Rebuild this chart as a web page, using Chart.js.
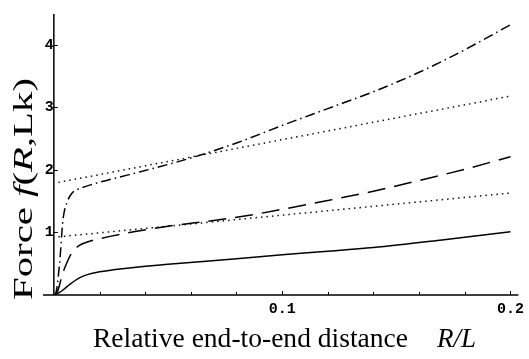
<!DOCTYPE html>
<html>
<head>
<meta charset="utf-8">
<script src="https://cdn.jsdelivr.net/npm/chart.js@4.4.0/dist/chart.umd.min.js"></script>
<style>
  html, body { margin: 0; padding: 0; background: #fff; }
  canvas { display: block; }
</style>
</head>
<body>
<canvas id="forceChart" width="529" height="359"></canvas>
<script>
// --- data ---
const xTickValues = [0.1, 0.2];
const xMinorTicks = [0.02, 0.04, 0.06, 0.08, 0.1, 0.12, 0.14, 0.16, 0.18, 0.2];
const yTickValues = [1, 2, 3, 4];

// solid curve
const solidX = [0, 0.002, 0.004, 0.007, 0.011, 0.015, 0.02, 0.03, 0.05, 0.08, 0.1, 0.12, 0.14, 0.17, 0.2];
const solidY = [0, 0.03, 0.08, 0.17, 0.27, 0.33, 0.37, 0.42, 0.49, 0.58, 0.645, 0.70, 0.76, 0.88, 1.01];

// dashed curve
const dashX = [0, 0.0013, 0.004, 0.006, 0.008, 0.011, 0.015, 0.02, 0.035, 0.05, 0.07, 0.085, 0.1, 0.12, 0.14, 0.16, 0.18, 0.2];
const dashY = [0, 0.03, 0.36, 0.54, 0.68, 0.79, 0.85, 0.9, 1.01, 1.1, 1.19, 1.27, 1.37, 1.51, 1.66, 1.83, 2.01, 2.21];

// dash-dot curve
const dashDotX = [0, 0.001, 0.0025, 0.004, 0.006, 0.008, 0.012, 0.016, 0.025, 0.04, 0.06, 0.08, 0.1, 0.12, 0.14, 0.16, 0.18, 0.2];
const dashDotY = [0, 0.05, 0.5, 1.2, 1.5, 1.63, 1.71, 1.76, 1.85, 1.99, 2.19, 2.43, 2.71, 2.98, 3.25, 3.56, 3.92, 4.32];

// dotted asymptotes
const lowLineX = [0.002, 0.2];
const lowLineY = [0.93, 1.63];
const highLineX = [0.002, 0.2];
const highLineY = [1.8, 3.18];

const toPoints = (xs, ys) => xs.map((x, i) => ({ x: x, y: ys[i] }));

const serif = '"Liberation Serif", "Times New Roman", serif';

// draws runs of [text, style] one after another, squeezed/stretched to a given length
function drawRuns(ctx, runs, size, length) {
    let total = 0;
    runs.forEach(r => {
        ctx.font = r[1] + size + 'px ' + serif;
        total += ctx.measureText(r[0]).width;
    });
    ctx.scale(length / total, 1);
    let pos = 0;
    runs.forEach(r => {
        ctx.font = r[1] + size + 'px ' + serif;
        ctx.fillText(r[0], pos, 0);
        pos += ctx.measureText(r[0]).width;
    });
}

// Axis lines, inward tick marks and the two mixed-style titles
const axesPlugin = {
    id: 'axesPlugin',
    afterDraw(chart) {
        const ctx = chart.ctx;
        const xs = chart.scales.x;
        const ys = chart.scales.y;
        const area = chart.chartArea;
        const x0 = xs.getPixelForValue(0);
        const y0 = ys.getPixelForValue(0);

        ctx.save();
        ctx.strokeStyle = '#000';
        ctx.lineWidth = 1.5;
        ctx.beginPath();
        ctx.moveTo(area.left, y0);
        ctx.lineTo(area.right, y0);
        ctx.moveTo(x0, area.top);
        ctx.lineTo(x0, y0);
        ctx.stroke();

        ctx.lineWidth = 1;
        ctx.beginPath();
        xMinorTicks.forEach(v => {
            const px = Math.round(xs.getPixelForValue(v)) + 0.5;
            const len = xTickValues.includes(v) ? 4 : 3;
            ctx.moveTo(px, y0);
            ctx.lineTo(px, y0 - len);
        });
        yTickValues.forEach(v => {
            const py = Math.round(ys.getPixelForValue(v)) + 0.5;
            ctx.moveTo(x0, py);
            ctx.lineTo(x0 + 4, py);
        });
        ctx.stroke();
        ctx.restore();

        ctx.save();
        ctx.fillStyle = '#000';
        ctx.textBaseline = 'alphabetic';
        ctx.textAlign = 'left';

        // x title
        ctx.save();
        ctx.translate(93, 347);
        drawRuns(ctx, [['Relative end-to-end distance', '']], 27, 315);
        ctx.restore();
        ctx.font = 'italic 27px ' + serif;
        ctx.fillText('R/L', 437, 347);

        // y title, rotated
        ctx.translate(32, 300);
        ctx.rotate(-Math.PI / 2);
        drawRuns(ctx, [['Force ', ''], ['f', 'italic '], ['(', ''], ['R', 'italic '], [',Lk)', '']], 27, 222);
        ctx.restore();
    }
};

const tickFont = { family: '"Liberation Mono", "Courier New", monospace', size: 15, weight: 'bold' };

new Chart(document.getElementById('forceChart'), {
    type: 'scatter',
    data: {
        datasets: [
            {
                label: 'solid',
                data: toPoints(solidX, solidY),
                borderColor: '#000',
                borderWidth: 1.5
            },
            {
                label: 'dashed',
                data: toPoints(dashX, dashY),
                borderColor: '#000',
                borderWidth: 1.5,
                borderDash: [18, 9]
            },
            {
                label: 'dash-dot',
                data: toPoints(dashDotX, dashDotY),
                borderColor: '#000',
                borderWidth: 1.5,
                borderDash: [10, 4, 1.5, 4]
            },
            {
                label: 'low asymptote',
                data: toPoints(lowLineX, lowLineY),
                borderColor: '#111',
                borderWidth: 1.5,
                borderDash: [1.5, 4]
            },
            {
                label: 'high asymptote',
                data: toPoints(highLineX, highLineY),
                borderColor: '#111',
                borderWidth: 1.5,
                borderDash: [1.5, 4]
            }
        ]
    },
    options: {
        responsive: false,
        animation: false,
        devicePixelRatio: 1,
        showLine: true,
        elements: {
            point: { radius: 0, hoverRadius: 0 },
            line: { cubicInterpolationMode: 'monotone', fill: false }
        },
        layout: { padding: { left: 43, right: 4, top: 3, bottom: 64 } },
        plugins: {
            legend: { display: false },
            tooltip: { enabled: false }
        },
        scales: {
            x: {
                type: 'linear',
                position: { y: 0 },
                min: -0.00475,
                max: 0.20346,
                grid: { display: false, drawTicks: false },
                border: { display: false },
                afterBuildTicks: scale => { scale.ticks = xTickValues.map(v => ({ value: v })); },
                ticks: {
                    font: tickFont,
                    color: '#000',
                    padding: 5,
                    maxRotation: 0,
                    autoSkip: false,
                    callback: v => v.toFixed(1)
                }
            },
            y: {
                type: 'linear',
                position: { x: 0 },
                min: 0,
                max: 4.492,
                grid: { display: false, drawTicks: false },
                border: { display: false },
                afterBuildTicks: scale => { scale.ticks = yTickValues.map(v => ({ value: v })); },
                ticks: {
                    font: tickFont,
                    color: '#000',
                    padding: 5,
                    autoSkip: false,
                    callback: v => String(v)
                }
            }
        }
    },
    plugins: [axesPlugin]
});
</script>
</body>
</html>
